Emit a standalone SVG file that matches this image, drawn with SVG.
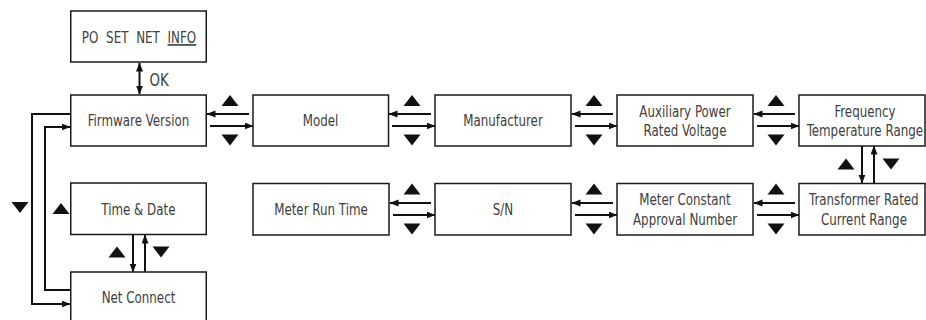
<svg xmlns="http://www.w3.org/2000/svg" width="926" height="320" viewBox="0 0 926 320">
<style>
.box{fill:#fff;stroke:#1a1a1a;stroke-width:1.5}
.t{font-family:"Liberation Sans Narrow","DejaVu Sans Condensed","Liberation Sans",sans-serif;font-size:16.5px;fill:#404040;text-anchor:middle;transform-box:fill-box;transform-origin:center;transform:scaleX(0.8)}
.ln{fill:none;stroke:#111;stroke-width:2}
.a{marker-end:url(#ah)}
.tri{fill:#111}
</style>
<defs>
<marker id="ah" markerUnits="userSpaceOnUse" markerWidth="10" markerHeight="8" refX="8.5" refY="3.5" orient="auto-start-reverse" viewBox="0 0 10 8">
<path d="M0,0 L9,3.5 L0,7 z" fill="#111"/>
</marker>
</defs>
<rect width="926" height="320" fill="#fff"/>

<g id="connectors">
  <line class="ln" x1="139.5" y1="63" x2="139.5" y2="94" marker-start="url(#ah)" marker-end="url(#ah)"/>
  <text class="t" x="147" y="86" style="text-anchor:start;font-size:18.5px">OK</text>
  <line class="ln a" x1="249" y1="114" x2="207" y2="114"/>
  <line class="ln a" x1="210" y1="126" x2="253" y2="126"/>
  <line class="ln a" x1="431" y1="114" x2="389" y2="114"/>
  <line class="ln a" x1="392" y1="126" x2="435" y2="126"/>
  <line class="ln a" x1="613" y1="114" x2="572" y2="114"/>
  <line class="ln a" x1="575" y1="126" x2="617" y2="126"/>
  <line class="ln a" x1="795" y1="114" x2="754" y2="114"/>
  <line class="ln a" x1="757" y1="126" x2="799" y2="126"/>
  <line class="ln a" x1="431" y1="203" x2="390" y2="203"/>
  <line class="ln a" x1="393" y1="215" x2="435" y2="215"/>
  <line class="ln a" x1="613" y1="203" x2="572" y2="203"/>
  <line class="ln a" x1="575" y1="215" x2="617" y2="215"/>
  <line class="ln a" x1="795" y1="203" x2="754" y2="203"/>
  <line class="ln a" x1="757" y1="215" x2="799" y2="215"/>
  <line class="ln a" x1="862" y1="146" x2="862" y2="183"/>
  <line class="ln a" x1="874" y1="183" x2="874" y2="146"/>
  <line class="ln a" x1="133" y1="235" x2="133" y2="272"/>
  <line class="ln a" x1="145" y1="272" x2="145" y2="235"/>
  <polyline class="ln a" points="70,114 32,114 32,304 70,304"/>
  <polyline class="ln a" points="70,290 45,290 45,127 70,127"/>
  <polygon class="tri" points="221.5,106 238.5,106 230,95"/>
  <polygon class="tri" points="221.5,134.5 238.5,134.5 230,145.5"/>
  <polygon class="tri" points="403.5,106 420.5,106 412,95"/>
  <polygon class="tri" points="403.5,134.5 420.5,134.5 412,145.5"/>
  <polygon class="tri" points="585.5,106 602.5,106 594,95"/>
  <polygon class="tri" points="585.5,134.5 602.5,134.5 594,145.5"/>
  <polygon class="tri" points="767.5,106 784.5,106 776,95"/>
  <polygon class="tri" points="767.5,134.5 784.5,134.5 776,145.5"/>
  <polygon class="tri" points="403.5,194.5 420.5,194.5 412,183.5"/>
  <polygon class="tri" points="403.5,223.5 420.5,223.5 412,234.5"/>
  <polygon class="tri" points="585.5,194.5 602.5,194.5 594,183.5"/>
  <polygon class="tri" points="585.5,223.5 602.5,223.5 594,234.5"/>
  <polygon class="tri" points="767.5,194.5 784.5,194.5 776,183.5"/>
  <polygon class="tri" points="767.5,223.5 784.5,223.5 776,234.5"/>
  <polygon class="tri" points="837.5,169.5 854.5,169.5 846,158.5"/>
  <polygon class="tri" points="882.5,158.5 899.5,158.5 891,169.5"/>
  <polygon class="tri" points="108.5,257.5 125.5,257.5 117,246.5"/>
  <polygon class="tri" points="152.5,246.5 169.5,246.5 161,257.5"/>
  <polygon class="tri" points="11.5,202 28.5,202 20,213"/>
  <polygon class="tri" points="52.5,214 69.5,214 61,203"/>
</g>

<g id="po-set"><rect class="box" x="70.75" y="11" width="135.5" height="51"/>
<text class="t" x="139" y="43" style="word-spacing:5px">PO SET NET <tspan text-decoration="underline">INFO</tspan></text></g>
<g id="firmware"><rect class="box" x="70.75" y="95" width="135.5" height="51"/><text class="t" x="138.5" y="126">Firmware Version</text></g>
<g id="model"><rect class="box" x="253" y="95" width="135.5" height="51"/><text class="t" x="320.5" y="126">Model</text></g>
<g id="manufacturer"><rect class="box" x="435" y="95" width="136" height="51"/><text class="t" x="503" y="126">Manufacturer</text></g>
<g id="aux"><rect class="box" x="617" y="95" width="136" height="51"/><text class="t" x="685" y="117">Auxiliary Power</text><text class="t" x="685" y="136.5">Rated Voltage</text></g>
<g id="frequency"><rect class="box" x="799" y="95" width="126" height="51"/><text class="t" x="865" y="117">Frequency</text><text class="t" x="865" y="136.5">Temperature Range</text></g>
<g id="time-date"><rect class="box" x="70.75" y="183" width="135.5" height="51.5"/><text class="t" x="138.5" y="215">Time &amp; Date</text></g>
<g id="net-connect"><rect class="box" x="70.75" y="272" width="135.5" height="60"/><text class="t" x="138.5" y="303">Net Connect</text></g>
<g id="run-time"><rect class="box" x="253" y="183.5" width="136" height="51.5"/><text class="t" x="321" y="215.5">Meter Run Time</text></g>
<g id="sn"><rect class="box" x="435" y="183.5" width="136" height="51.5"/><text class="t" x="503" y="215.5">S/N</text></g>
<g id="meter-constant"><rect class="box" x="617" y="183.5" width="136" height="51.5"/><text class="t" x="685" y="205">Meter Constant</text><text class="t" x="685" y="225">Approval Number</text></g>
<g id="transformer"><rect class="box" x="799" y="183.5" width="126" height="51.5"/><text class="t" x="864" y="205">Transformer Rated</text><text class="t" x="864" y="225">Current Range</text></g>
</svg>
